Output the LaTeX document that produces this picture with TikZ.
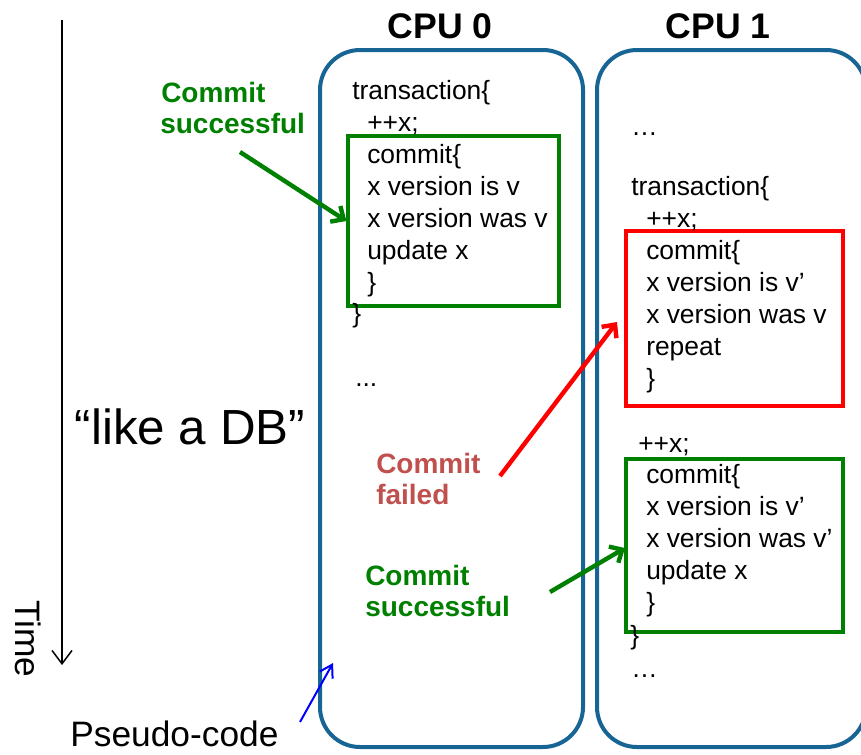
\documentclass[tikz,border=0pt]{standalone}
\usepackage{fontspec}
\setmainfont{Liberation Sans}
\usetikzlibrary{arrows.meta}
\definecolor{boxblue}{RGB}{22,101,148}
\definecolor{okgreen}{RGB}{0,128,0}
\definecolor{failred}{RGB}{192,80,77}
\definecolor{hotred}{RGB}{255,0,0}
\begin{document}
\begin{tikzpicture}[x=0.75pt,y=-0.75pt,
  code/.style={anchor=base west,inner sep=0pt,font=\fontsize{19.8}{24}\selectfont},
  title/.style={anchor=base,inner sep=0pt,font=\fontsize{26.7}{32}\selectfont\bfseries},
  oklbl/.style={anchor=base west,inner sep=0pt,text=okgreen,font=\fontsize{21}{25}\selectfont\bfseries},
  faillbl/.style={anchor=base west,inner sep=0pt,text=failred,font=\fontsize{21}{25}\selectfont\bfseries},
  biglbl/.style={inner sep=0pt,font=\fontsize{26.5}{32}\selectfont},
  cpubox/.style={draw=boxblue,line width=3pt,rounded corners=30pt,inner sep=0pt,minimum width=#1},
  okbox/.style={draw=okgreen,line width=2.4pt,inner sep=0pt},
  failbox/.style={draw=hotred,line width=2.4pt,inner sep=0pt},
  okarrow/.style={draw=okgreen,line width=3.3pt,-{Straight Barb[length=7.5pt,width=14pt]}},
  failarrow/.style={draw=hotred,line width=3.3pt,-{Straight Barb[length=7.5pt,width=14pt]}},
  timearrow/.style={draw=black,line width=1.1pt,-{Straight Barb[length=10pt,width=15pt]}},
  ptrarrow/.style={draw=blue,line width=1.5pt,-{Straight Barb[length=9pt,width=11pt]}}
]
\useasboundingbox (0,0) rectangle (861,754);
\clip (0,0) rectangle (861,754);

% CPU frames
\node[cpubox=197.25pt,minimum height=522.75pt] (cpu0) at (451.5,398.5) {};
\node[cpubox=201.75pt,minimum height=522.75pt] (cpu1) at (731.5,398.5) {};
\node[title] (t0) at (440,38) {CPU 0};
\node[title] (t1) at (718,38) {CPU 1};

% commit boxes
\node[okbox,minimum width=158.25pt,minimum height=127.5pt] (gbox1) at (453.5,221) {};
\node[failbox,minimum width=162.75pt,minimum height=131.25pt] (rbox) at (734.5,318.5) {};
\node[okbox,minimum width=162.75pt,minimum height=129.75pt] (gbox2) at (734.5,545.5) {};

% CPU 0 code
\node[code] (a1) at (352,99) {transaction\{};
\node[code] (a2) at (367,131) {++x;};
\node[code] (a3) at (367,163) {commit\{};
\node[code] (a4) at (367,195) {x version is v};
\node[code] (a5) at (367,227) {x version was v};
\node[code] (a6) at (367,259) {update x};
\node[code] (a7) at (367,291) {\}};
\node[code] (a8) at (352,322) {\}};
\node[code] (a9) at (355,386) {...};

% CPU 1 code
\node[code] (b1) at (631,135) {…};
\node[code] (b2) at (631,195) {transaction\{};
\node[code] (b3) at (646,227) {++x;};
\node[code] (b4) at (646,259) {commit\{};
\node[code] (b5) at (646,291) {x version is v’};
\node[code] (b6) at (646,323) {x version was v};
\node[code] (b7) at (646,355) {repeat};
\node[code] (b8) at (646,387) {\}};
\node[code] (b9) at (638,452) {++x;};
\node[code] (b10) at (646,483) {commit\{};
\node[code] (b11) at (646,515) {x version is v’};
\node[code] (b12) at (646,547) {x version was v’};
\node[code] (b13) at (646,579) {update x};
\node[code] (b14) at (646,611) {\}};
\node[code] (b15) at (630,644) {\}};
\node[code] (b16) at (631,677) {…};

% labels
\node[oklbl] (c1a) at (161,102) {Commit};
\node[oklbl] (c1b) at (160,133) {successful};
\node[faillbl] (c2a) at (376,473) {Commit};
\node[faillbl] (c2b) at (376,504) {failed};
\node[oklbl] (c3a) at (365,585) {Commit};
\node[oklbl] (c3b) at (365,616) {successful};

\node[biglbl,font=\fontsize{37}{44}\selectfont,anchor=base] (db) at (190,444) {“like a DB”};
\node[biglbl,rotate=-90] (time) at (28,639) {Time};
\node[biglbl,anchor=base west] (pc) at (70,746) {Pseudo-code};

% arrows
\coordinate (s1) at (240,152);
\coordinate (s2) at (500,476);
\coordinate (e2) at (617,322);
\coordinate (s3) at (550,592);
\coordinate (e3) at (625,548);
\coordinate (ts) at (62,20);
\coordinate (te) at (62,665);
\coordinate (ps) at (300,722);
\coordinate (pe) at (333,663);

\draw[okarrow] (s1) -- (gbox1.west);
\draw[failarrow] (s2) -- (e2);
\draw[okarrow] (s3) -- (e3);
\draw[timearrow] (ts) -- (te);
\draw[ptrarrow] (ps) -- (pe);
\end{tikzpicture}
\end{document}
